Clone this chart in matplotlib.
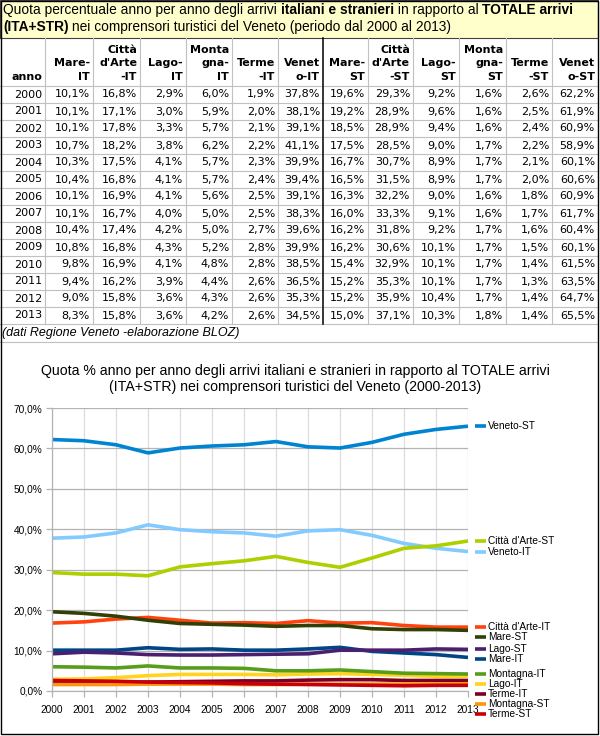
import matplotlib
matplotlib.use("Agg")
import matplotlib.pyplot as plt
from matplotlib.patches import Rectangle
from matplotlib.ticker import FuncFormatter

# --- data: quota % degli arrivi sul totale (ITA+STR), Veneto 2000-2013 ---
years = [2000, 2001, 2002, 2003, 2004, 2005, 2006, 2007, 2008, 2009, 2010, 2011, 2012, 2013]
series_names = ["Mare-IT", "Città d'Arte-IT", "Lago-IT", "Montagna-IT", "Terme-IT", "Veneto-IT",
                "Mare-ST", "Città d'Arte-ST", "Lago-ST", "Montagna-ST", "Terme-ST", "Veneto-ST"]
header_labels = ["Mare-\nIT", "Città\nd'Arte\n-IT", "Lago-\nIT", "Monta\ngna-\nIT", "Terme\n-IT", "Venet\no-IT",
                 "Mare-\nST", "Città\nd'Arte\n-ST", "Lago-\nST", "Monta\ngna-\nST", "Terme\n-ST", "Venet\no-ST"]

mare_it = [10.1, 10.1, 10.1, 10.7, 10.3, 10.4, 10.1, 10.1, 10.4, 10.8, 9.8, 9.4, 9.0, 8.3]
citta_it = [16.8, 17.1, 17.8, 18.2, 17.5, 16.8, 16.9, 16.7, 17.4, 16.8, 16.9, 16.2, 15.8, 15.8]
lago_it = [2.9, 3.0, 3.3, 3.8, 4.1, 4.1, 4.1, 4.0, 4.2, 4.3, 4.1, 3.9, 3.6, 3.6]
montagna_it = [6.0, 5.9, 5.7, 6.2, 5.7, 5.7, 5.6, 5.0, 5.0, 5.2, 4.8, 4.4, 4.3, 4.2]
terme_it = [1.9, 2.0, 2.1, 2.2, 2.3, 2.4, 2.5, 2.5, 2.7, 2.8, 2.8, 2.6, 2.6, 2.6]
veneto_it = [37.8, 38.1, 39.1, 41.1, 39.9, 39.4, 39.1, 38.3, 39.6, 39.9, 38.5, 36.5, 35.3, 34.5]
mare_st = [19.6, 19.2, 18.5, 17.5, 16.7, 16.5, 16.3, 16.0, 16.2, 16.2, 15.4, 15.2, 15.2, 15.0]
citta_st = [29.3, 28.9, 28.9, 28.5, 30.7, 31.5, 32.2, 33.3, 31.8, 30.6, 32.9, 35.3, 35.9, 37.1]
lago_st = [9.2, 9.6, 9.4, 9.0, 8.9, 8.9, 9.0, 9.1, 9.2, 10.1, 10.1, 10.1, 10.4, 10.3]
montagna_st = [1.6, 1.6, 1.6, 1.7, 1.7, 1.7, 1.6, 1.6, 1.7, 1.7, 1.7, 1.7, 1.7, 1.8]
terme_st = [2.6, 2.5, 2.4, 2.2, 2.1, 2.0, 1.8, 1.7, 1.6, 1.5, 1.4, 1.3, 1.4, 1.4]
veneto_st = [62.2, 61.9, 60.9, 58.9, 60.1, 60.6, 60.9, 61.7, 60.4, 60.1, 61.5, 63.5, 64.7, 65.5]

values = [mare_it, citta_it, lago_it, montagna_it, terme_it, veneto_it,
          mare_st, citta_st, lago_st, montagna_st, terme_st, veneto_st]
# LibreOffice default chart palette
colors = ["#004586", "#ff420e", "#ffd320", "#579d1c", "#7e0021", "#83caff",
          "#314004", "#aecf00", "#4b1f6f", "#ff950e", "#c5000b", "#0084d1"]

CELL_FONT = "DejaVu Sans"
CHART_FONT = "Liberation Sans"


def pct(v):
    return f"{v:.1f}%".replace(".", ",")


fig = plt.figure(figsize=(6.0, 7.36), dpi=100)
bg = fig.add_axes([0, 0, 1, 1])
bg.set_xlim(0, 600)
bg.set_ylim(736, 0)
bg.axis("off")
renderer = fig.canvas.get_renderer()


def text_width(s, **kw):
    a = bg.text(0, 0, "x" + s + "x", **kw)
    b = bg.text(0, 0, "xx", **kw)
    w = a.get_window_extent(renderer).width - b.get_window_extent(renderer).width
    a.remove()
    b.remove()
    return w


def rich_line(x, y, parts, **kw):
    for s, weight in parts:
        bg.text(x, y, s, fontweight=weight, ha="left", va="center", **kw)
        x += text_width(s, fontweight=weight, **kw)


# title box
bg.add_patch(Rectangle((0, 0), 598, 38, facecolor="#ffffcc", edgecolor="#404040", lw=0.8))
tkw = dict(fontsize=9.9, family="Liberation Sans")
rich_line(3, 10, [("Quota percentuale anno per anno degli arrivi ", "normal"),
                  ("italiani e stranieri", "bold"), (" in rapporto al ", "normal"),
                  ("TOTALE arrivi", "bold")], **tkw)
rich_line(3, 27, [("(ITA+STR)", "bold"),
                  (" nei comprensori turistici del Veneto (periodo dal 2000 al 2013)", "normal")], **tkw)

# table grid
col_edges = [0, 45, 93, 140, 186, 232, 278, 323, 368, 413, 459, 506, 552, 598]
top, head_bottom, row_h = 38, 86, 17
table_bottom = head_bottom + row_h * len(years)
grid_c = "#c0c0c0"
for x in col_edges[1:-1]:
    if x == 323:
        bg.plot([x, x], [top, table_bottom], color="black", lw=1.1, zorder=3)
    else:
        bg.plot([x, x], [top, table_bottom], color=grid_c, lw=0.8)
for i in range(len(years) + 1):
    yy = head_bottom + i * row_h
    bg.plot([0, 598], [yy, yy], color=grid_c, lw=0.8)
bg.plot([0, 598], [table_bottom + 18, table_bottom + 18], color=grid_c, lw=0.8)

# header
ckw = dict(fontsize=8, family=CELL_FONT)
bg.text(col_edges[1] - 3, 77, "anno", ha="right", va="center", fontweight="bold", **ckw)
for j, lab in enumerate(header_labels):
    lines = lab.split("\n")
    for k, ln in enumerate(reversed(lines)):
        bg.text(col_edges[j + 2] - 3, 77 - 13.5 * k, ln, ha="right", va="center",
                fontweight="bold", **ckw)

# body
for i, yr in enumerate(years):
    yc = head_bottom + i * row_h + row_h / 2
    bg.text(col_edges[1] - 3, yc, str(yr), ha="right", va="center", **ckw)
    for j, vals in enumerate(values):
        bg.text(col_edges[j + 2] - 3, yc, pct(vals[i]), ha="right", va="center", **ckw)
bg.text(2, table_bottom + 9, "(dati Regione Veneto -elaborazione BLOZ)", ha="left", va="center",
        style="italic", fontsize=9, family="Liberation Sans")

# outer frame
bg.add_patch(Rectangle((0.5, 0.5), 597, 733, fill=False, edgecolor="black", lw=1.0, zorder=5))

# chart title
bg.text(295, 379, "Quota % anno per anno degli arrivi italiani e stranieri in rapporto al TOTALE arrivi\n"
        "(ITA+STR) nei comprensori turistici del Veneto (2000-2013)",
        ha="center", va="center", fontsize=10.2, family=CHART_FONT, linespacing=1.15)

# --- line chart ---
ax = fig.add_axes([52 / 600, 45 / 736, 416 / 600, 283 / 736])
for name, vals, c in zip(series_names, values, colors):
    ax.plot(years, vals, color=c, lw=2.6, solid_joinstyle="round", solid_capstyle="butt", clip_on=False)
ax.set_xlim(2000, 2013)
ax.set_ylim(0, 70)
ax.set_xticks(years)
ax.set_yticks(range(0, 71, 10))
ax.yaxis.set_major_formatter(FuncFormatter(lambda v, _: pct(v)))
ax.grid(axis="y", color="#b3b3b3", lw=0.9, zorder=0)
ax.grid(axis="x", color="#dddddd", lw=0.9, zorder=0)
ax.set_axisbelow(True)
for s in ["top", "right"]:
    ax.spines[s].set_visible(False)
for s in ["left", "bottom"]:
    ax.spines[s].set_color("#b3b3b3")
    ax.spines[s].set_linewidth(0.9)
ax.tick_params(axis="both", direction="out", length=4, width=0.9, colors="#b3b3b3",
               labelcolor="black", labelsize=7.3, pad=3)
ax.tick_params(axis="x", pad=6)
for lab in ax.get_xticklabels() + ax.get_yticklabels():
    lab.set_family(CHART_FONT)

# end-of-line legend, labels spread so they don't overlap
order = sorted(range(len(series_names)), key=lambda k: -values[k][-1])
gap = 2.45
label_y = {}
prev = None
for k in order:
    yv = values[k][-1]
    if prev is not None and prev - yv < gap:
        yv = prev - gap
    label_y[k] = yv
    prev = yv
for k in order:
    yl = label_y[k]
    ax.plot([2013.22, 2013.56], [yl, yl], color=colors[k], lw=2.6, clip_on=False,
            solid_capstyle="butt")
    ax.text(2013.62, yl, series_names[k], ha="left", va="center", fontsize=7.3, family=CHART_FONT)

fig.savefig("out.png", dpi=100)
